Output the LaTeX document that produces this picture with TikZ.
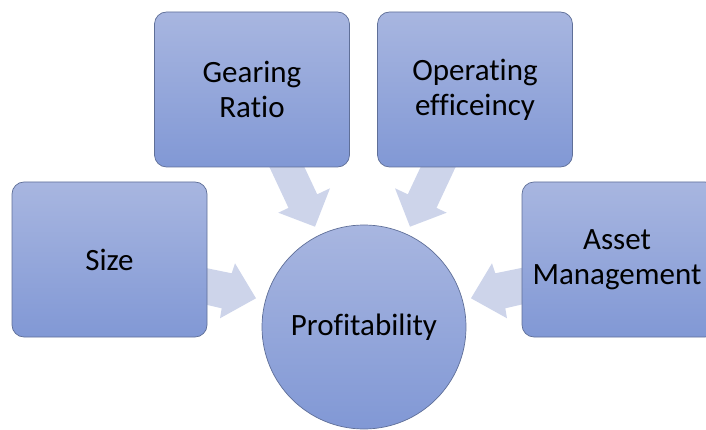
\documentclass[tikz,border=0pt]{standalone}
\usepackage{fontspec}
\setmainfont{Carlito}[Ligatures={NoCommon,NoContextual}]
\definecolor{boxtop}{HTML}{A8B6E0}
\definecolor{boxbot}{HTML}{8198D5}
\definecolor{boxline}{HTML}{5F6F98}
\definecolor{arrowfill}{HTML}{CDD4EA}
\begin{document}
\begin{tikzpicture}[x=1pt,y=-1pt,
  shapebox/.style={rectangle, rounded corners=12pt, minimum width=195pt, minimum height=155pt,
    top color=boxtop, bottom color=boxbot, draw=boxline, line width=0.7pt,
    align=center, inner sep=0pt, font=\fontsize{31}{35}\selectfont},
  hub/.style={circle, minimum size=204pt, inner sep=0pt,
    top color=boxtop, bottom color=boxbot, draw=boxline, line width=0.7pt,
    align=center, font=\fontsize{31}{35}\selectfont},
  fatarrow/.style={fill=arrowfill, draw=none}]
\clip (0,0) rectangle (706,430);
% arrows (behind the shapes)
\path[fatarrow] (200,266.8) -- (231.7,273.3) -- (235,263.3) -- (256,298.3) -- (220,318.3) -- (221.7,308.3) -- (200,303.3) -- cycle;
\path[fatarrow] (527,266.8) -- (495.3,273.3) -- (492,263.3) -- (471,298.3) -- (507,318.3) -- (505.3,308.3) -- (527,303.3) -- cycle;
\path[fatarrow] (266.1,160) -- (301.1,160) -- (317.2,194.3) -- (330,188.3) -- (315,226.7) -- (278.3,212.7) -- (288.5,207.9) -- cycle;
\path[fatarrow] (458.9,160) -- (423.9,160) -- (407.8,194.3) -- (395,188.3) -- (410,226.7) -- (446.7,212.7) -- (436.5,207.9) -- cycle;
% shapes
\node[shapebox] (size) at (109.5,259.5) {Size};
\node[shapebox] (gearing) at (252,89.5) {Gearing\\Ratio};
\node[shapebox] (operating) at (475,89.5) {Operating\\efficeincy};
\node[shapebox] (asset) at (619.5,259.5) {};
\node at (617,259.5) [align=center, inner sep=0pt, font=\fontsize{31}{35}\selectfont] (assettext) {Asset\\Management};
\node[hub] (profit) at (364,327) {Profitability};
\end{tikzpicture}
\end{document}
